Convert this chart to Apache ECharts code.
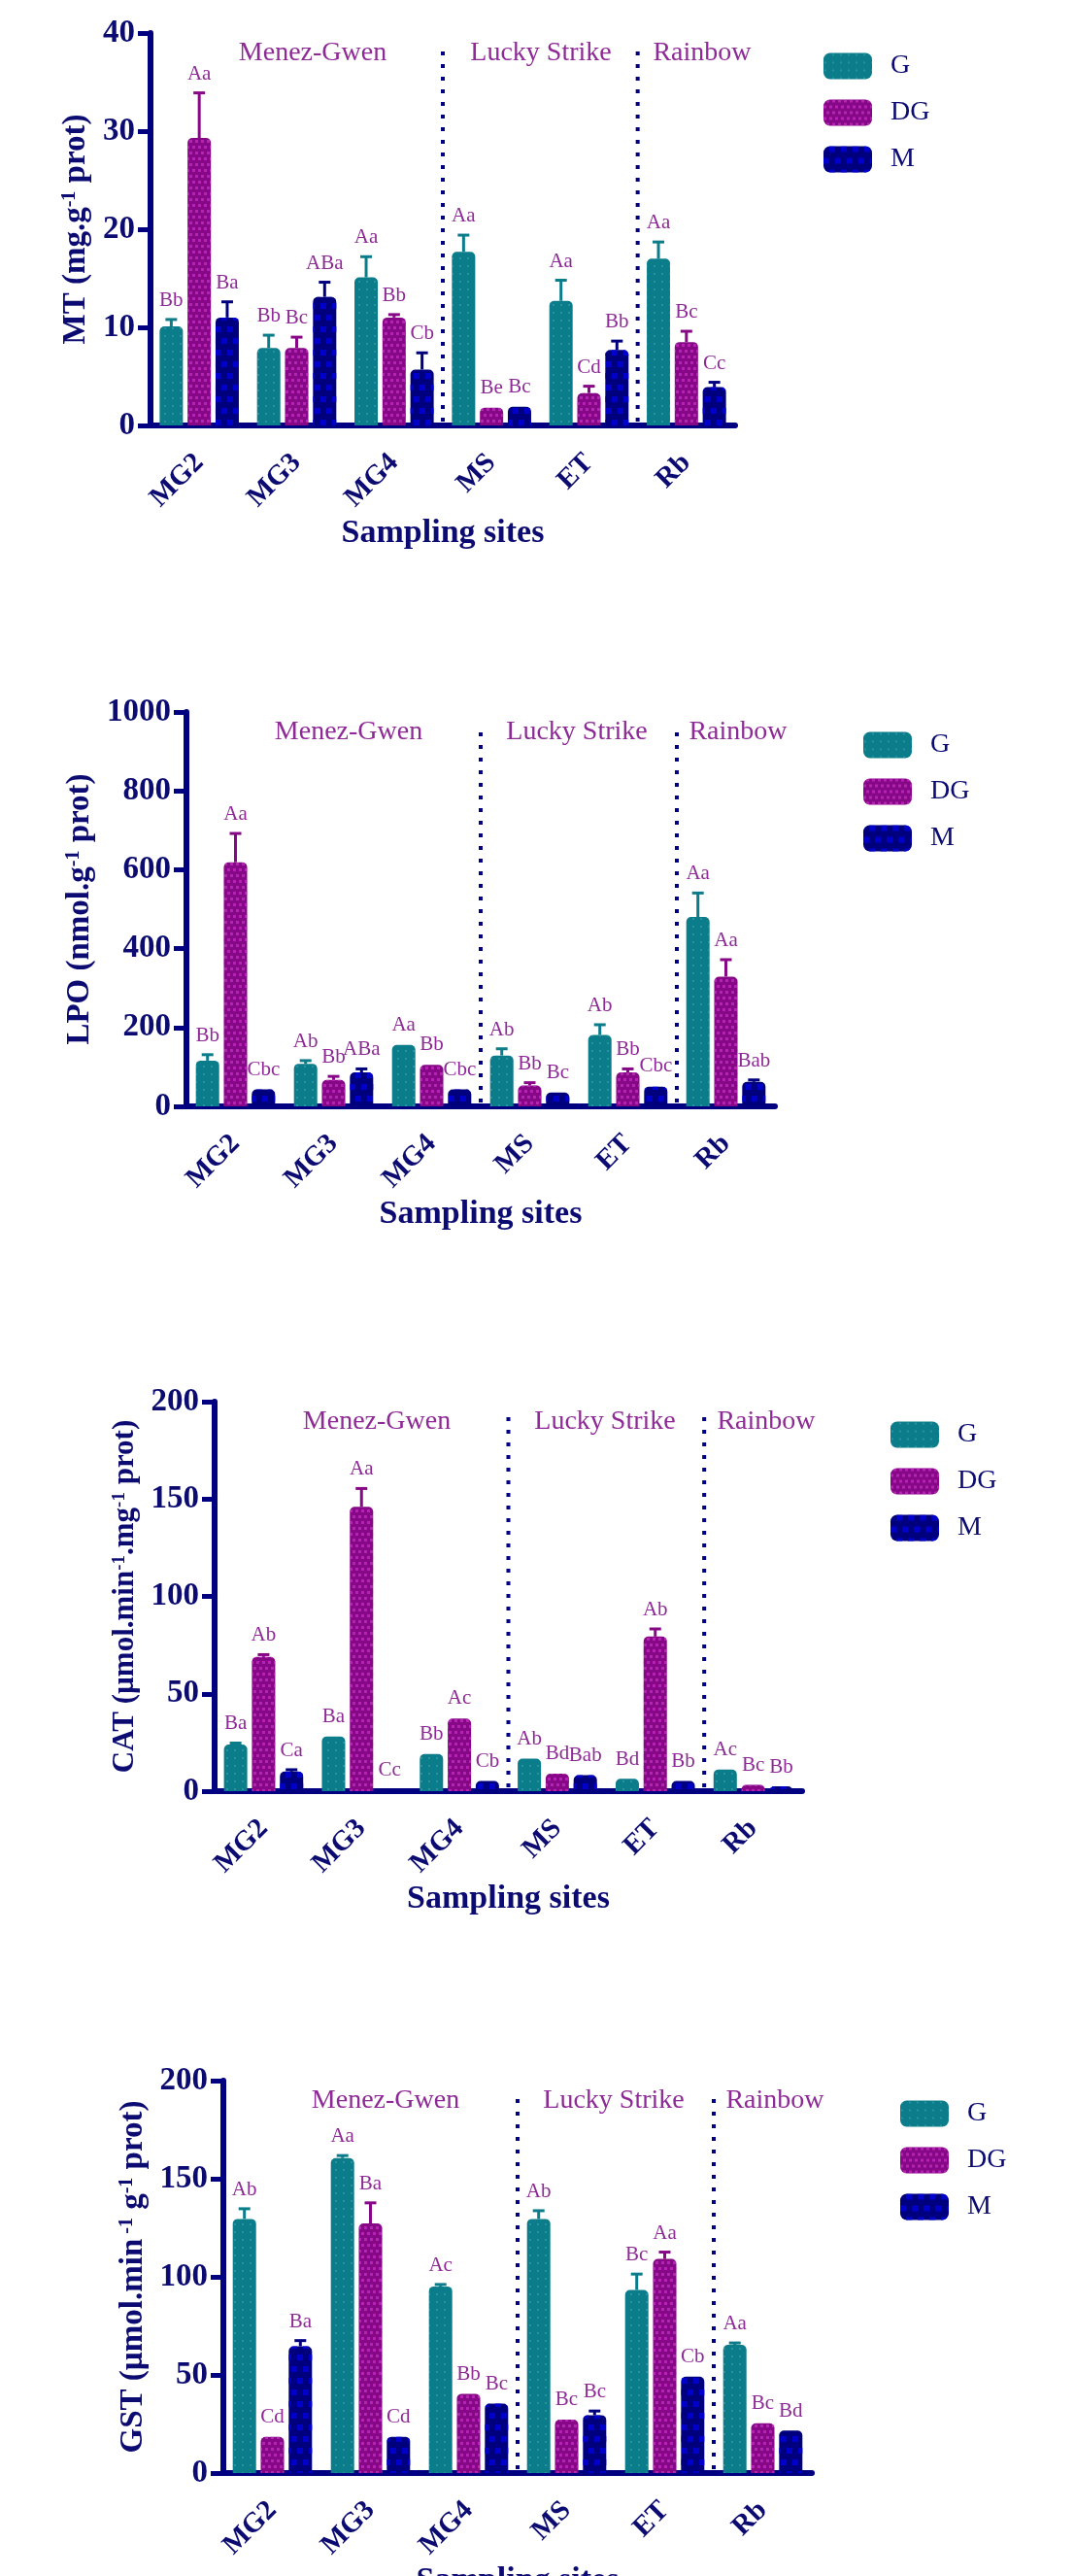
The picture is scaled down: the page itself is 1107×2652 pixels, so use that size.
<!DOCTYPE html>
<html>
<head>
<meta charset="utf-8">
<title>MT, LPO, CAT, GST by sampling site</title>
<script src="https://cdn.jsdelivr.net/npm/echarts@6/dist/echarts.min.js"></script>
<style>
  html, body { margin: 0; padding: 0; background: #fff; }
  #chart { width: 1107px; height: 2652px; }
</style>
</head>
<body>
<div id="chart"></div>
<script>
var sites = ['MG2', 'MG3', 'MG4', 'MS', 'ET', 'Rb'];
var groups = ['G', 'DG', 'M'];
var regions = ['Menez-Gwen', 'Lucky Strike', 'Rainbow'];
var regionStart = [0, 3, 5]; // first site index of each region

// MT (mg.g-1 prot)
var mtG = [10.1, 7.9, 15.1, 17.7, 12.7, 17.0];
var mtGErr = [0.7, 1.3, 2.1, 1.7, 2.1, 1.7];
var mtDG = [29.3, 7.9, 11.0, 1.8, 3.3, 8.5];
var mtDGErr = [4.6, 1.1, 0.3, 0.1, 0.7, 1.1];
var mtM = [11.0, 13.1, 5.7, 1.9, 7.7, 3.9];
var mtMErr = [1.6, 1.5, 1.7, 0.1, 0.9, 0.5];
var mtGLet = ['Bb', 'Bb', 'Aa', 'Aa', 'Aa', 'Aa'];
var mtDGLet = ['Aa', 'Bc', 'Bb', 'Be', 'Cd', 'Bc'];
var mtMLet = ['Ba', 'ABa', 'Cb', 'Bc', 'Bb', 'Cc'];

// LPO (nmol.g-1 prot)
var lpoG = [116, 108, 156, 129, 181, 480];
var lpoGErr = [15, 8, 2, 17, 26, 61];
var lpoDG = [619, 67, 105, 53, 86, 329];
var lpoDGErr = [73, 9, 3, 7, 9, 43];
var lpoM = [43, 86, 43, 35, 50, 62];
var lpoMErr = [2, 9, 2, 1, 3, 5];
var lpoGLet = ['Bb', 'Ab', 'Aa', 'Ab', 'Ab', 'Aa'];
var lpoDGLet = ['Aa', 'Bb', 'Bb', 'Bb', 'Bb', 'Aa'];
var lpoMLet = ['Cbc', 'ABa', 'Cbc', 'Bc', 'Cbc', 'Bab'];

// CAT (umol.min-1.mg-1 prot)
var catG = [23.9, 28.1, 19.1, 16.7, 6.3, 11.1];
var catGErr = [0.8, 0.5, 0.6, 0.5, 0.3, 0.5];
var catDG = [68.9, 146, 37.3, 9.0, 79.4, 3.3];
var catDGErr = [1.2, 9.4, 0.6, 0.4, 3.9, 0.3];
var catM = [10.1, 1.0, 5.2, 8.2, 5.2, 2.5];
var catMErr = [0.9, 0.1, 0.3, 0.4, 0.3, 0.2];
var catGLet = ['Ba', 'Ba', 'Bb', 'Ab', 'Bd', 'Ac'];
var catDGLet = ['Ab', 'Aa', 'Ac', 'Bd', 'Ab', 'Bc'];
var catMLet = ['Ca', 'Cc', 'Cb', 'Bab', 'Bb', 'Bb'];

// GST (umol.min-1 g-1 prot)
var gstG = [129.5, 160.5, 95.1, 129.5, 93.3, 65.3];
var gstGErr = [5.2, 1.3, 1.0, 4.2, 8.1, 1.0];
var gstDG = [18.4, 127.2, 40.4, 27.2, 109.1, 25.4];
var gstDGErr = [0.3, 10.5, 0.3, 0.5, 3.5, 0.3];
var gstM = [64.6, 18.4, 35.4, 29.5, 49.1, 21.6];
var gstMErr = [2.9, 0.3, 0.3, 2.1, 0.5, 0.3];
var gstGLet = ['Ab', 'Aa', 'Ac', 'Ab', 'Bc', 'Aa'];
var gstDGLet = ['Cd', 'Ba', 'Bb', 'Bc', 'Aa', 'Bc'];
var gstMLet = ['Ba', 'Cd', 'Bc', 'Bc', 'Cb', 'Bd'];

var navy = '#000080';
var textNavy = '#0b0b72';
var purpleText = '#8e2a96';
var serif = '"Liberation Serif", "Times New Roman", serif';
var barColors = ['#0b7c8a', '#870887', '#00007f'];
var decals = [
	{ symbol: 'circle', symbolSize: 0.45, color: 'rgba(140,215,222,0.35)', dashArrayX: [4, 4], dashArrayY: [4, 4] },
	{ symbol: 'rect', symbolSize: 1, color: 'rgba(215,60,215,0.55)', dashArrayX: [[3, 3], [0, 3, 3, 0]], dashArrayY: [3, 3] },
	{ symbol: 'rect', symbolSize: 1, color: 'rgba(0,0,215,0.85)', dashArrayX: [[6, 6], [0, 6, 6, 0]], dashArrayY: [6, 6] }
];
var barWidth = 24;
var barStep = 28.8; // barWidth + 20% gap

var panels = [
	{ left: 155, top: 34, width: 602, height: 404, max: 40, interval: 10, nameGap: 50, nameSize: 33,
	  yname: '{t|MT (mg.g}{s|-1}{t| prot)}',
	  vals: [mtG, mtDG, mtM], errs: [mtGErr, mtDGErr, mtMErr], lets: [mtGLet, mtDGLet, mtMLet] },
	{ left: 192, top: 733, width: 606, height: 406, max: 1000, interval: 200, nameGap: 84, nameSize: 33,
	  yname: '{t|LPO (nmol.g}{s|-1}{t| prot)}',
	  vals: [lpoG, lpoDG, lpoM], errs: [lpoGErr, lpoDGErr, lpoMErr], lets: [lpoGLet, lpoDGLet, lpoMLet] },
	{ left: 221, top: 1443, width: 605, height: 401, max: 200, interval: 50, nameGap: 74, nameSize: 31,
	  yname: '{t|CAT (\u00b5mol.min}{s|-1}{t|.mg}{s|-1}{t| prot)}',
	  vals: [catG, catDG, catM], errs: [catGErr, catDGErr, catMErr], lets: [catGLet, catDGLet, catMLet] },
	{ left: 230, top: 2142, width: 606, height: 404, max: 200, interval: 50, nameGap: 62, nameSize: 33,
	  yname: '{t|GST (\u00b5mol.min}{s| -1}{t| g}{s|-1}{t| prot)}',
	  vals: [gstG, gstDG, gstM], errs: [gstGErr, gstDGErr, gstMErr], lets: [gstGLet, gstDGLet, gstMLet] }
];

function errRender(offset, color, letters) {
	return function (params, api) {
		var x = api.value(0);
		var p0 = api.coord([x, api.value(1)]);
		var p1 = api.coord([x, api.value(2)]);
		var cx = p0[0] + offset;
		var kids = [];
		if (p0[1] - p1[1] > 1.5) {
			kids.push({ type: 'line', shape: { x1: cx, y1: p0[1], x2: cx, y2: p1[1] }, style: { stroke: color, lineWidth: 3 } });
			kids.push({ type: 'line', shape: { x1: cx - 6, y1: p1[1], x2: cx + 6, y2: p1[1] }, style: { stroke: color, lineWidth: 3 } });
		}
		kids.push({ type: 'text', x: cx, y: p1[1] - 9,
			style: { text: letters[params.dataIndex], fill: purpleText, font: '21px ' + serif, align: 'center', verticalAlign: 'bottom' } });
		return { type: 'group', children: kids };
	};
}

// dotted separator at the left edge of a region's first category
function sepRender(params, api) {
	var band = api.size([1, 0])[0];
	var p0 = api.coord([api.value(0), api.value(1)]);
	var p1 = api.coord([api.value(0), api.value(2)]);
	var x = p0[0] - band / 2;
	return { type: 'line', shape: { x1: x, y1: p0[1] - 4, x2: x, y2: p1[1] + 14 },
		style: { stroke: navy, lineWidth: 4, lineDash: [4, 9] } };
}

var grid = [], xAxis = [], yAxis = [], series = [], legend = [], graphic = [];
panels.forEach(function (p, k) {
	grid.push({ left: p.left, top: p.top, width: p.width, height: p.height, outerBoundsMode: 'none' });
	xAxis.push({
		type: 'category', gridIndex: k, data: sites,
		name: 'Sampling sites', nameLocation: 'middle', nameGap: 94,
		nameTextStyle: { fontFamily: serif, fontWeight: 'bold', fontSize: 34, color: textNavy },
		axisLine: { lineStyle: { color: navy, width: 6 } },
		axisTick: { alignWithLabel: true, length: 14, lineStyle: { color: navy, width: 5 } },
		axisLabel: { rotate: 45, margin: 34, fontFamily: serif, fontWeight: 'bold', fontSize: 29, color: textNavy },
		splitLine: { show: false }
	});
	yAxis.push({
		type: 'value', gridIndex: k, min: 0, max: p.max, interval: p.interval,
		name: p.yname, nameLocation: 'middle', nameGap: p.nameGap, nameRotate: 90,
		nameTextStyle: { color: textNavy, rich: {
			t: { fontFamily: serif, fontWeight: 'bold', fontSize: p.nameSize, color: textNavy },
			s: { fontFamily: serif, fontWeight: 'bold', fontSize: Math.round(p.nameSize * 0.6), color: textNavy, verticalAlign: 'top' }
		} },
		axisLine: { show: true, lineStyle: { color: navy, width: 6 } },
		axisTick: { show: true, length: 13, lineStyle: { color: navy, width: 5 } },
		axisLabel: { margin: 16, fontFamily: serif, fontWeight: 'bold', fontSize: 33, color: textNavy,
			formatter: function (v) { return String(v); } },
		splitLine: { show: false }
	});
	series.push({
		type: 'custom', xAxisIndex: k, yAxisIndex: k, z: 1, silent: true,
		renderItem: sepRender, encode: { x: 0, y: [1, 2] },
		data: regionStart.slice(1).map(function (i) { return [i, 0, p.max]; })
	});
	groups.forEach(function (g, j) {
		series.push({
			name: g, type: 'bar', xAxisIndex: k, yAxisIndex: k,
			data: p.vals[j], barWidth: barWidth, barGap: '20%',
			itemStyle: { color: barColors[j], borderRadius: [5, 5, 0, 0], decal: decals[j] }
		});
		series.push({
			type: 'custom', xAxisIndex: k, yAxisIndex: k, z: 3,
			renderItem: errRender((j - 1) * barStep, barColors[j], p.lets[j]),
			encode: { x: 0, y: [1, 2] },
			data: sites.map(function (s, i) { return [i, p.vals[j][i], p.vals[j][i] + p.errs[j][i]]; })
		});
	});
	legend.push({
		data: groups, orient: 'vertical', left: p.left + p.width + 86, top: p.top + 15,
		itemWidth: 50, itemHeight: 27, itemGap: 20, icon: 'roundRect',
		textStyle: { fontFamily: serif, fontSize: 28, color: textNavy, padding: [0, 0, 0, 14] }
	});
	var cx = [167, 402, 568];
	regions.forEach(function (r, i) {
		graphic.push({ type: 'text', x: p.left + cx[i], y: p.top + 21,
			style: { text: r, fill: purpleText, font: '28px ' + serif, align: 'center', verticalAlign: 'middle' } });
	});
});

var myChart = echarts.init(document.getElementById('chart'), null, { renderer: 'canvas' });
myChart.setOption({
	animation: false,
	backgroundColor: '#ffffff',
	grid: grid,
	xAxis: xAxis,
	yAxis: yAxis,
	legend: legend,
	graphic: graphic,
	series: series
});
</script>
</body>
</html>
